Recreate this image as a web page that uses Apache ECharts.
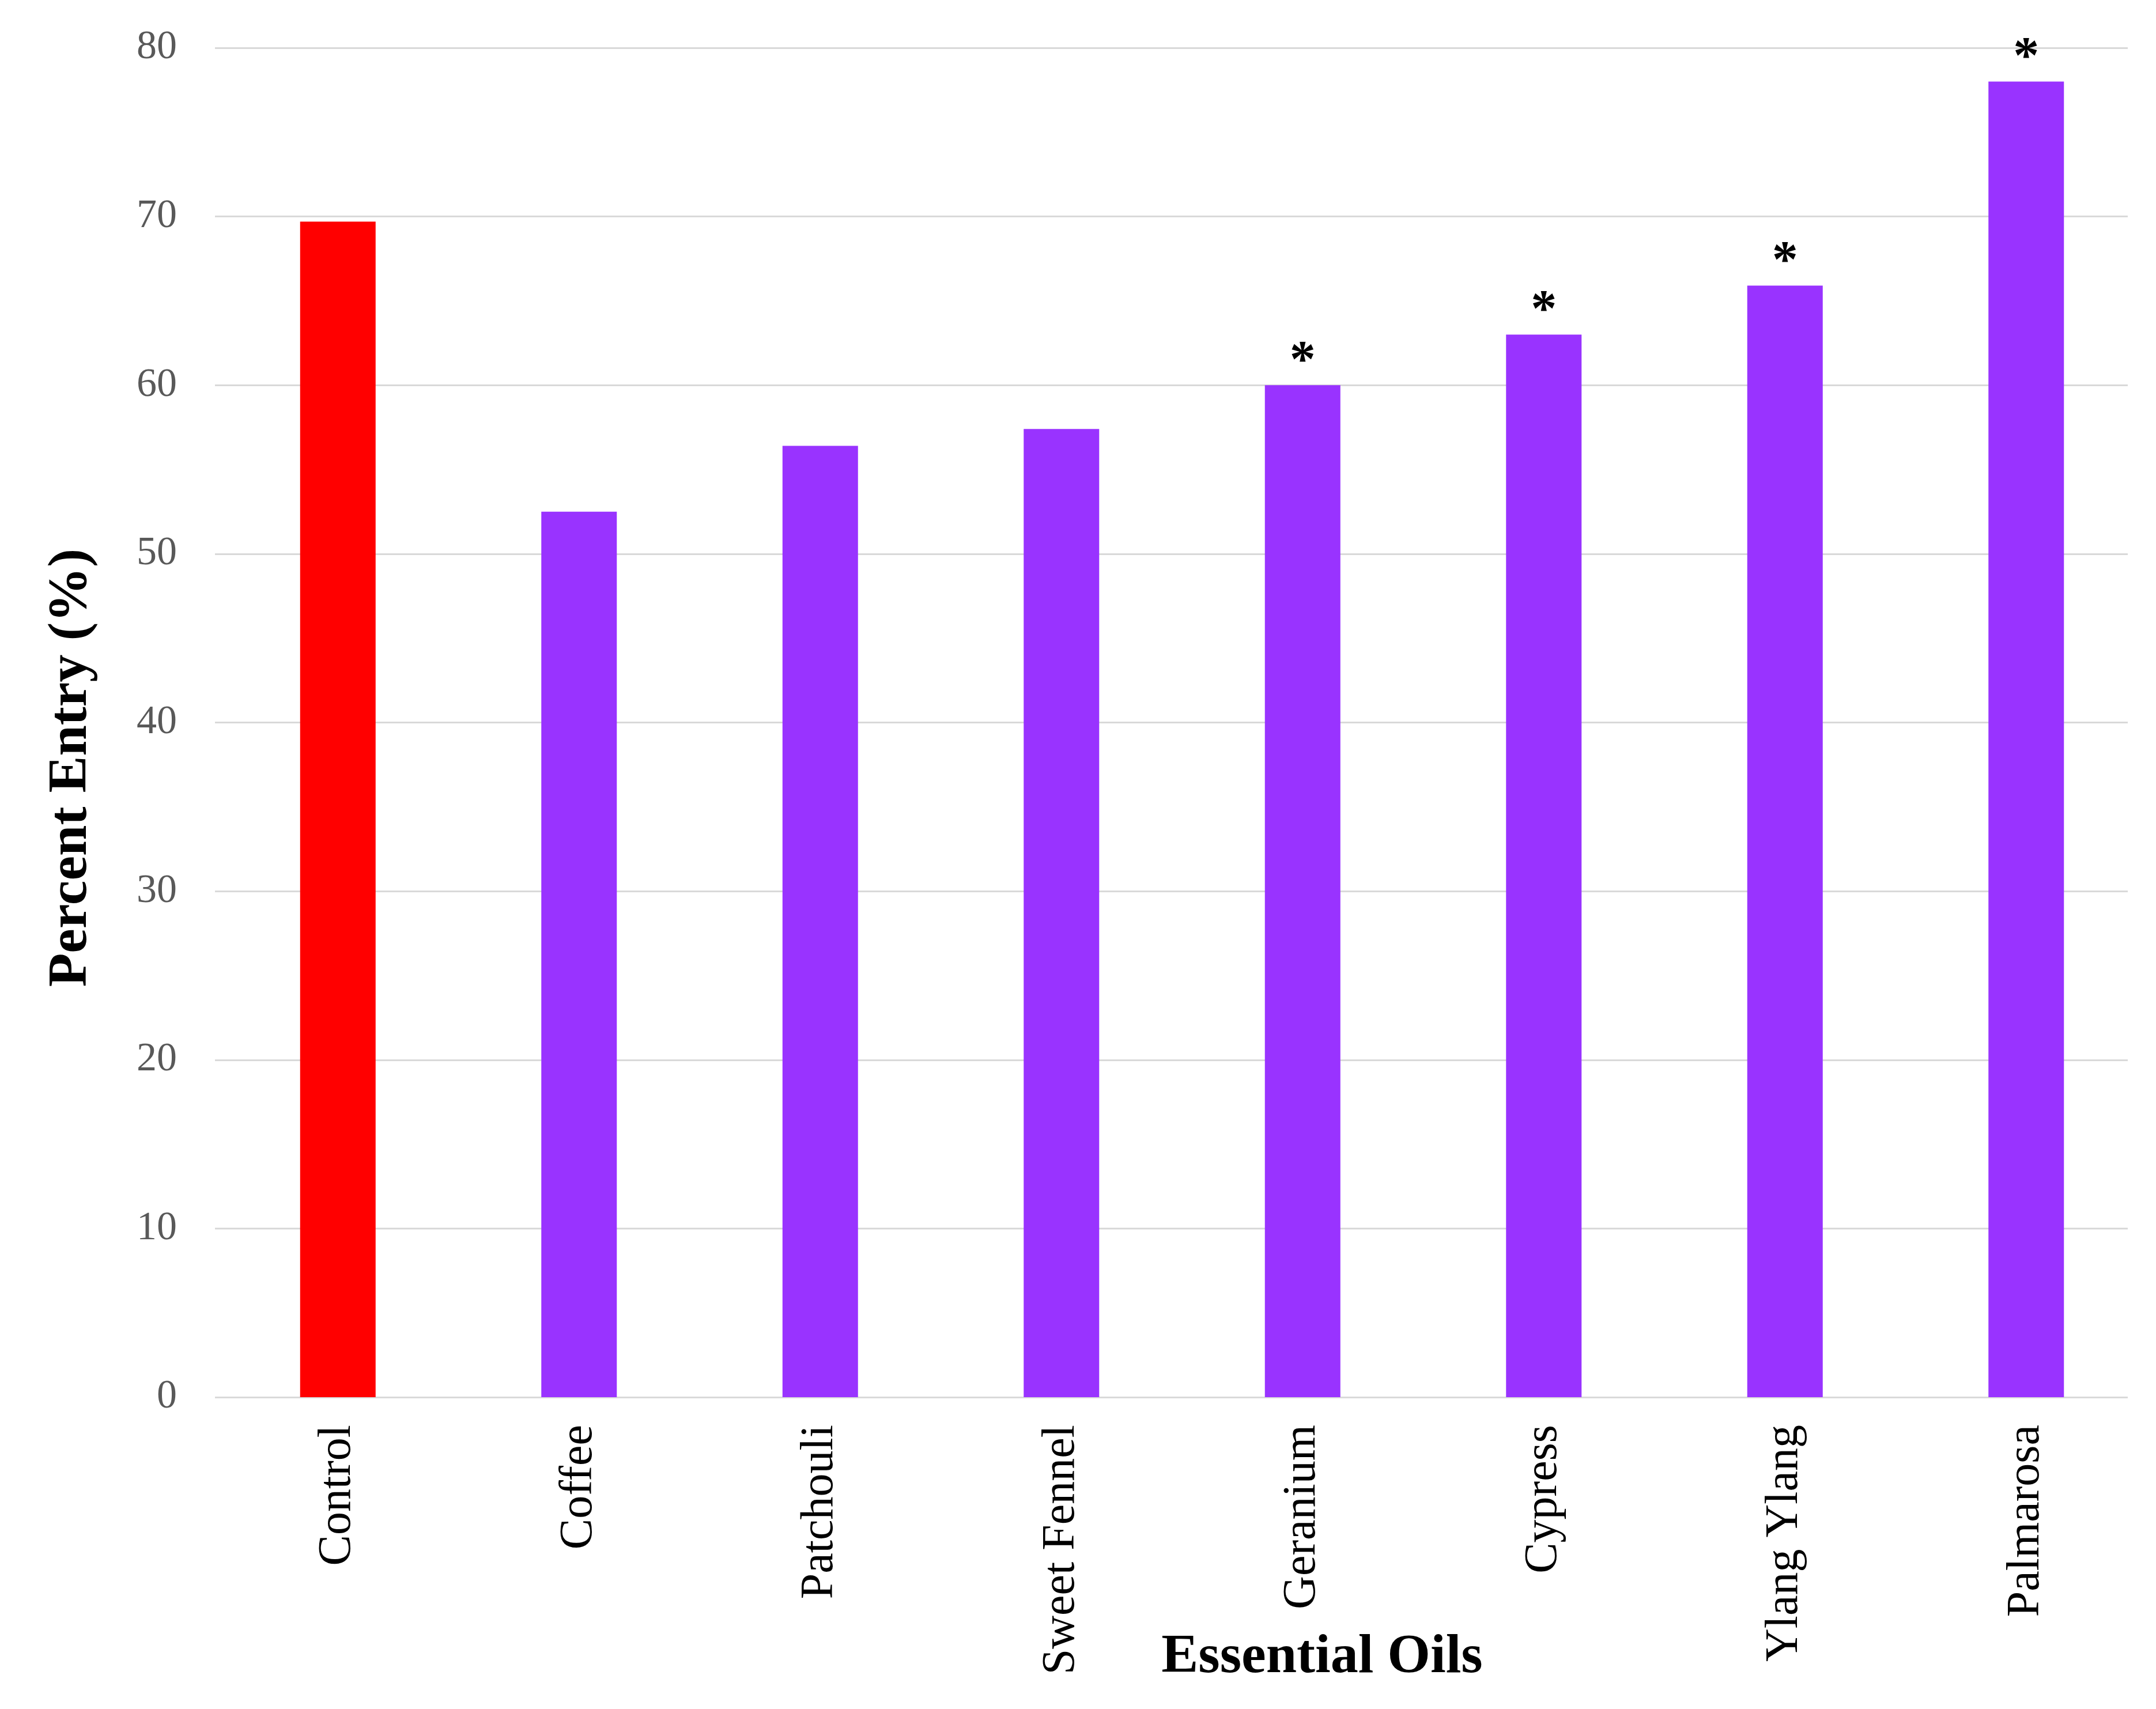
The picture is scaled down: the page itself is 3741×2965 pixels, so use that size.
<!DOCTYPE html>
<html>
<head>
<meta charset="utf-8">
<script src="https://cdn.jsdelivr.net/npm/echarts@6/dist/echarts.min.js"></script>
<style>
html,body{margin:0;padding:0;background:#fff;}
#chart{width:3741px;height:2965px;}
</style>
</head>
<body>
<div id="chart"></div>
<script>
var categories = ['Control', 'Coffee', 'Patchouli', 'Sweet Fennel', 'Geranium', 'Cypress', 'Ylang Ylang', 'Palmarosa'];
var percentEntry = [69.7, 52.5, 56.4, 57.4, 60.0, 63.0, 65.9, 78.0];
var significance = ['', '', '', '', '*', '*', '*', '*'];
var yTicks = [0, 10, 20, 30, 40, 50, 60, 70, 80];
var yAxisTitle = 'Percent Entry (%)';
var xAxisTitle = 'Essential Oils';

var barColors = categories.map(function (c, i) { return i === 0 ? '#FF0000' : '#9933FF'; });
var serif = '"Liberation Serif", "Times New Roman", serif';

var chart = echarts.init(document.getElementById('chart'), null, {renderer: 'canvas'});
chart.setOption({
  backgroundColor: '#ffffff',
  animation: false,
  grid: [
    {left: 373, right: 49, top: 83, bottom: 541, containLabel: false},
    {left: 377, right: 16, top: 83, bottom: 541, containLabel: false}
  ],
  xAxis: [
    {gridIndex: 0, type: 'category', data: categories, show: false},
    {
      gridIndex: 1, type: 'category', data: categories,
      axisLine: {show: false}, axisTick: {show: false},
      axisLabel: {rotate: 90, margin: 48, fontFamily: serif, fontSize: 80, color: '#000000', interval: 0}
    }
  ],
  yAxis: [
    {
      gridIndex: 0, type: 'value', min: yTicks[0], max: yTicks[yTicks.length - 1], interval: 10,
      axisLine: {show: false}, axisTick: {show: false},
      axisLabel: {margin: 66, fontFamily: serif, fontSize: 70, color: '#595959'},
      splitLine: {show: true, lineStyle: {color: '#D9D9D9', width: 3}}
    },
    {
      gridIndex: 1, type: 'value', min: yTicks[0], max: yTicks[yTicks.length - 1], interval: 10,
      show: false, splitLine: {show: false}
    }
  ],
  series: [{
    type: 'bar',
    xAxisIndex: 1, yAxisIndex: 1,
    barWidth: 131,
    data: percentEntry.map(function (v, i) {
      return {value: v, itemStyle: {color: barColors[i]}};
    }),
    label: {
      show: true, position: 'top', distance: -6,
      formatter: function (p) { return significance[p.dataIndex]; },
      fontFamily: serif, fontSize: 90, fontWeight: 'bold', color: '#000000'
    }
  }],
  graphic: [
    {
      type: 'text', x: 124, y: 1332, rotation: Math.PI / 2,
      style: {text: yAxisTitle, font: 'bold 96px ' + serif, fill: '#000000', textAlign: 'center', textVerticalAlign: 'middle'}
    },
    {
      type: 'text', x: 2294, y: 2876,
      style: {text: xAxisTitle, font: 'bold 96px ' + serif, fill: '#000000', textAlign: 'center', textVerticalAlign: 'middle'}
    }
  ]
});
</script>
</body>
</html>
